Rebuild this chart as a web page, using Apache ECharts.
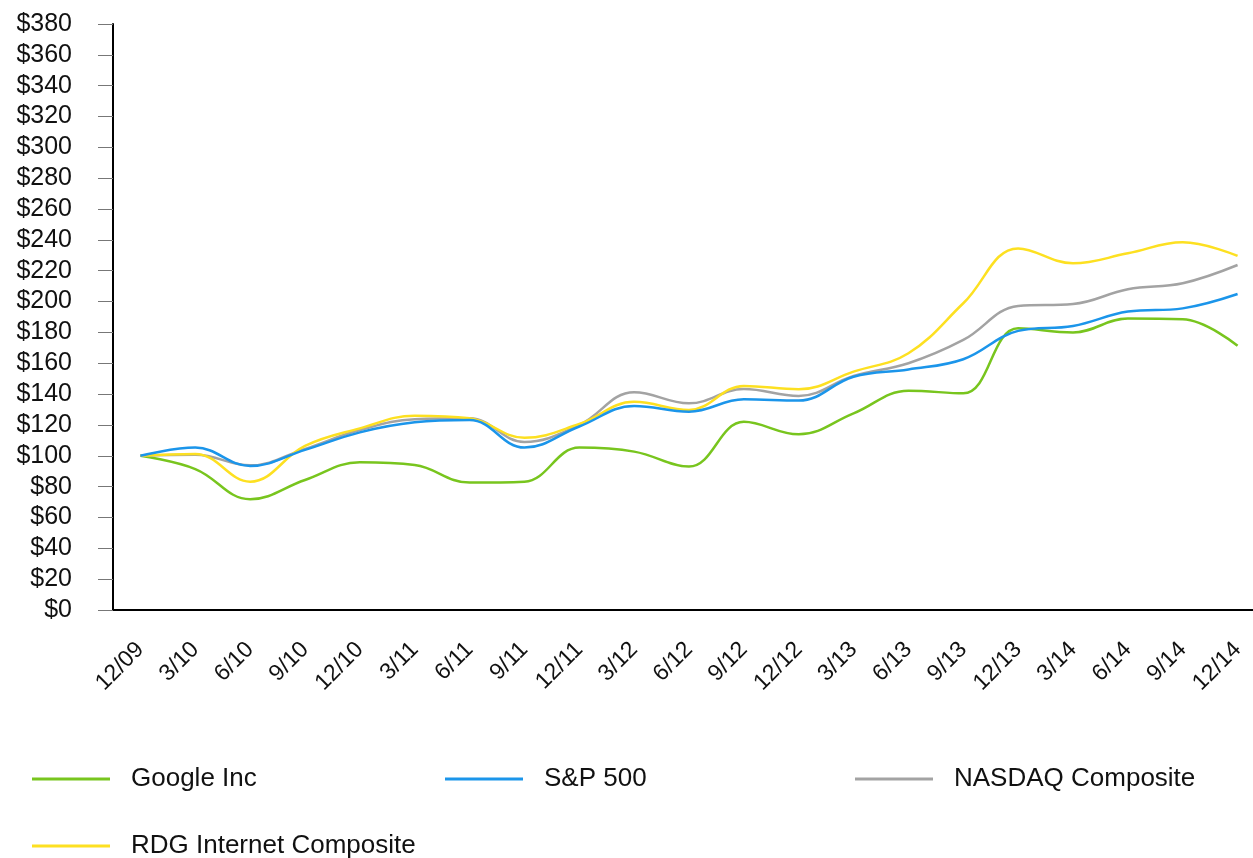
<!DOCTYPE html>
<html>
<head>
<meta charset="utf-8">
<script src="https://cdn.jsdelivr.net/npm/echarts@6/dist/echarts.min.js"></script>
<style>
  html, body { margin: 0; padding: 0; background: #fff; overflow: hidden; }
  /* a little wider than the window: the last band runs off the right edge like the original */
  #chart { width: 1265px; height: 858px; }
</style>
</head>
<body>
<div id="chart"></div>
<script>
const quarters = ["12/09", "3/10", "6/10", "9/10", "12/10", "3/11", "6/11", "9/11", "12/11", "3/12", "6/12",
  "9/12", "12/12", "3/13", "6/13", "9/13", "12/13", "3/14", "6/14", "9/14", "12/14"];

const google = [100, 91.4, 71.8, 84.3, 95.8, 94, 82.6, 83.2, 105.3, 102.7, 93, 122, 113.9, 127.5, 142.2, 140.5, 182.7, 180, 189, 188.5, 171.4];
const sp500 = [100, 105.3, 93.4, 103.8, 115.2, 121.7, 123.2, 105.3, 119, 132.3, 128.6, 136.6, 135.8, 151.3, 156, 162.6, 181, 184.2, 193.5, 195.6, 204.9];
const nasdaq = [100, 100.6, 93.8, 104.5, 116.7, 123.7, 124.3, 109, 120, 141.2, 134, 143.3, 138.8, 151.8, 160, 175.1, 197.1, 198.4, 208, 211.9, 223.7];
const rdg = [100, 101.2, 83.2, 106.4, 117.8, 126, 124.3, 111.7, 120.6, 135, 129.7, 145.3, 143.1, 154.6, 166.5, 198.9, 234.5, 224.8, 231.3, 238.4, 229.6];

const seriesNames = ["Google Inc", "S&P 500", "NASDAQ Composite", "RDG Internet Composite"];
const seriesColors = ["#78c51e", "#1b95ea", "#a3a3a3", "#fde021"];

const yMin = 0, yMax = 380, yStep = 20;

const font = "'Liberation Sans', Arial, sans-serif";
const chart = echarts.init(document.getElementById("chart"));

function lineSeries(name, data, color, z) {
  return {
    name: name,
    type: "line",
    data: data,
    smooth: 0.4,
    symbol: "none",
    z: z,
    lineStyle: { width: 2.5, color: color },
    itemStyle: { color: color }
  };
}

// one legend per item so they sit in fixed columns
const legendSpots = [
  { left: 32, top: 766 },
  { left: 445, top: 766 },
  { left: 855, top: 766 },
  { left: 32, top: 833 }
];

chart.setOption({
  animation: false,
  textStyle: { fontFamily: font },
  grid: { left: 113, right: 0, top: 24, bottom: 248 },
  legend: seriesNames.map((n, i) => ({
    data: [n],
    left: legendSpots[i].left,
    top: legendSpots[i].top,
    padding: 0,
    icon: "rect",
    itemWidth: 78,
    itemHeight: 3,
    itemGap: 0,
    textStyle: { fontSize: 26, color: "#111", padding: [0, 0, 0, 16], fontFamily: font }
  })),
  xAxis: {
    type: "category",
    data: quarters,
    boundaryGap: true,
    axisLine: { lineStyle: { color: "#000", width: 2 } },
    axisTick: { alignWithLabel: true, length: 15, lineStyle: { color: "#777", width: 1 } },
    axisLabel: { rotate: 45, fontSize: 23, color: "#111", margin: 36, interval: 0, fontFamily: font }
  },
  yAxis: {
    type: "value",
    min: yMin,
    max: yMax,
    interval: yStep,
    splitLine: { show: false },
    axisLine: { show: true, lineStyle: { color: "#000", width: 2 } },
    axisTick: { show: true, length: 15, lineStyle: { color: "#777", width: 1 } },
    axisLabel: { fontSize: 25, color: "#111", margin: 41, formatter: v => "$" + v, fontFamily: font }
  },
  series: [
    lineSeries(seriesNames[0], google, seriesColors[0], 2),
    lineSeries(seriesNames[2], nasdaq, seriesColors[2], 2),
    lineSeries(seriesNames[1], sp500, seriesColors[1], 3),
    lineSeries(seriesNames[3], rdg, seriesColors[3], 2)
  ]
});
</script>
</body>
</html>
